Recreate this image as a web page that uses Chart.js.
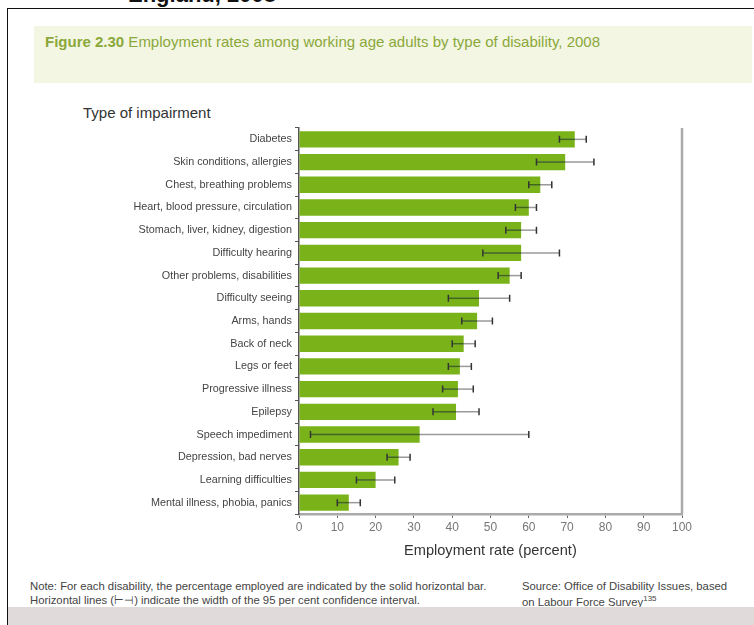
<!DOCTYPE html>
<html>
<head>
<meta charset="utf-8">
<script src="https://cdn.jsdelivr.net/npm/chart.js@4"></script>
<style>
  html, body { margin: 0; padding: 0; background: #fff; }
  body { width: 754px; height: 625px; position: relative; overflow: hidden; font-family: "Liberation Sans", Arial, sans-serif; }
  .abs { position: absolute; white-space: nowrap; }
  #frameTop { left: 7px; top: 8px; width: 747px; height: 0; border-top: 1.5px solid #111; }
  #frameLeft { left: 7px; top: 8px; width: 0; height: 617px; border-left: 1.5px solid #111; }
  #header { left: 128px; top: -18px; font-size: 22px; font-weight: bold; color: #111; }
  #titleBand { left: 34px; top: 26px; width: 718px; height: 57px; background: #f3f6e3; }
  #figTitle { left: 45px; top: 33px; font-size: 15px; color: #8aa83a; }
  #figTitle b { font-weight: bold; }
  #yTitle { left: 83px; top: 104px; font-size: 15px; color: #333; }
  #xTitle { left: 404px; top: 542px; font-size: 14.6px; color: #333; }
  .note { font-size: 11.3px; color: #444; }
  #bottomBand { left: 8px; top: 607px; width: 746px; height: 18px; background: #e0dada; }
  #chartWrap { left: 0; top: 100px; width: 754px; height: 460px; }
</style>
</head>
<body>
<div class="abs" id="header">England, 2008</div>
<div class="abs" id="frameTop"></div>
<div class="abs" id="frameLeft"></div>
<div class="abs" id="titleBand"></div>
<div class="abs" id="figTitle"><b>Figure 2.30</b> Employment rates among working age adults by type of disability, 2008</div>
<div class="abs" id="yTitle">Type of impairment</div>
<div class="abs" id="chartWrap"><canvas id="myChart" width="754" height="460"></canvas></div>
<div class="abs" id="xTitle">Employment rate (percent)</div>
<div class="abs note" style="left:30px; top:580px;">Note: For each disability, the percentage employed are indicated by the solid horizontal bar.</div>
<div class="abs note" style="left:30px; top:594px;">Horizontal lines (&#8866;&#8867;) indicate the width of the 95 per cent confidence interval.</div>
<div class="abs note" style="left:522px; top:580px;">Source: Office of Disability Issues, based</div>
<div class="abs note" style="left:522px; top:594px;">on Labour Force Survey<sup style="font-size:8px;">135</sup></div>
<div class="abs" id="bottomBand"></div>

<script>
const categories = [
    'Diabetes',
    'Skin conditions, allergies',
    'Chest, breathing problems',
    'Heart, blood pressure, circulation',
    'Stomach, liver, kidney, digestion',
    'Difficulty hearing',
    'Other problems, disabilities',
    'Difficulty seeing',
    'Arms, hands',
    'Back of neck',
    'Legs or feet',
    'Progressive illness',
    'Epilepsy',
    'Speech impediment',
    'Depression, bad nerves',
    'Learning difficulties',
    'Mental illness, phobia, panics',
];
const rates  = [72, 69.5, 63, 60, 58, 58, 55, 47, 46.5, 43, 42, 41.5, 41, 31.5, 26, 20, 13];
const ciLow  = [68, 62, 60, 56.5, 54, 48, 52, 39, 42.5, 40, 39, 37.5, 35, 3, 23, 15, 10];
const ciHigh = [75, 77, 66, 62, 62, 68, 58, 55, 50.5, 46, 45, 45.5, 47, 60, 29, 25, 16];
const xTicks = [0, 10, 20, 30, 40, 50, 60, 70, 80, 90, 100];

// confidence interval whiskers + right frame line
const errorBars = {
    id: 'errorBars',
    afterDatasetsDraw(chart) {
        const {ctx, chartArea, scales: {x}} = chart;
        const bars = chart.getDatasetMeta(0).data;
        ctx.save();
        ctx.lineWidth = 1.5;
        bars.forEach((bar, i) => {
            const y = bar.y;
            const lo = x.getPixelForValue(ciLow[i]);
            const hi = x.getPixelForValue(ciHigh[i]);
            const end = x.getPixelForValue(rates[i]);
            ctx.strokeStyle = '#9a9a9a';
            ctx.beginPath(); ctx.moveTo(lo, y); ctx.lineTo(hi, y); ctx.stroke();
            ctx.strokeStyle = '#3e6a12';
            ctx.beginPath(); ctx.moveTo(lo, y); ctx.lineTo(Math.min(hi, end), y); ctx.stroke();
            ctx.strokeStyle = '#333';
            ctx.beginPath();
            ctx.moveTo(lo, y - 3.5); ctx.lineTo(lo, y + 3.5);
            ctx.moveTo(hi, y - 3.5); ctx.lineTo(hi, y + 3.5);
            ctx.stroke();
        });
        ctx.strokeStyle = '#aaa';
        ctx.lineWidth = 2.5;
        ctx.beginPath();
        ctx.moveTo(chartArea.right, chartArea.top);
        ctx.lineTo(chartArea.right, chartArea.bottom);
        ctx.stroke();
        ctx.restore();
    }
};

const ctx = document.getElementById('myChart');
new Chart(ctx, {
    type: 'bar',
    data: {
        labels: categories,
        datasets: [{
            data: rates,
            backgroundColor: '#79b319',
            borderWidth: 0,
            barPercentage: 0.72,
            categoryPercentage: 1.0,
        }]
    },
    options: {
        indexAxis: 'y',
        responsive: false,
        animation: false,
        layout: {padding: {left: 0, right: 72, top: 28, bottom: 0}},
        scales: {
            x: {
                min: 0,
                max: 100,
                afterFit(scale) { scale.height = 46; },
                afterBuildTicks(scale) { scale.ticks = xTicks.map(v => ({value: v})); },
                border: {color: '#aaa', width: 2.5},
                grid: {display: true, drawOnChartArea: false, tickLength: 4, color: '#666'},
                ticks: {color: '#777', font: {size: 12, family: 'Liberation Sans'}, padding: 2},
            },
            y: {
                afterFit(scale) { scale.width = 299; },
                border: {color: '#555', width: 1.5},
                grid: {display: true, drawOnChartArea: false, offset: true, tickLength: 4, color: '#555'},
                ticks: {color: '#444', font: {size: 10.8, family: 'Liberation Sans'}, padding: 3, autoSkip: false},
            }
        },
        plugins: {
            legend: {display: false},
            tooltip: {enabled: false}
        }
    },
    plugins: [errorBars]
});
</script>
</body>
</html>
